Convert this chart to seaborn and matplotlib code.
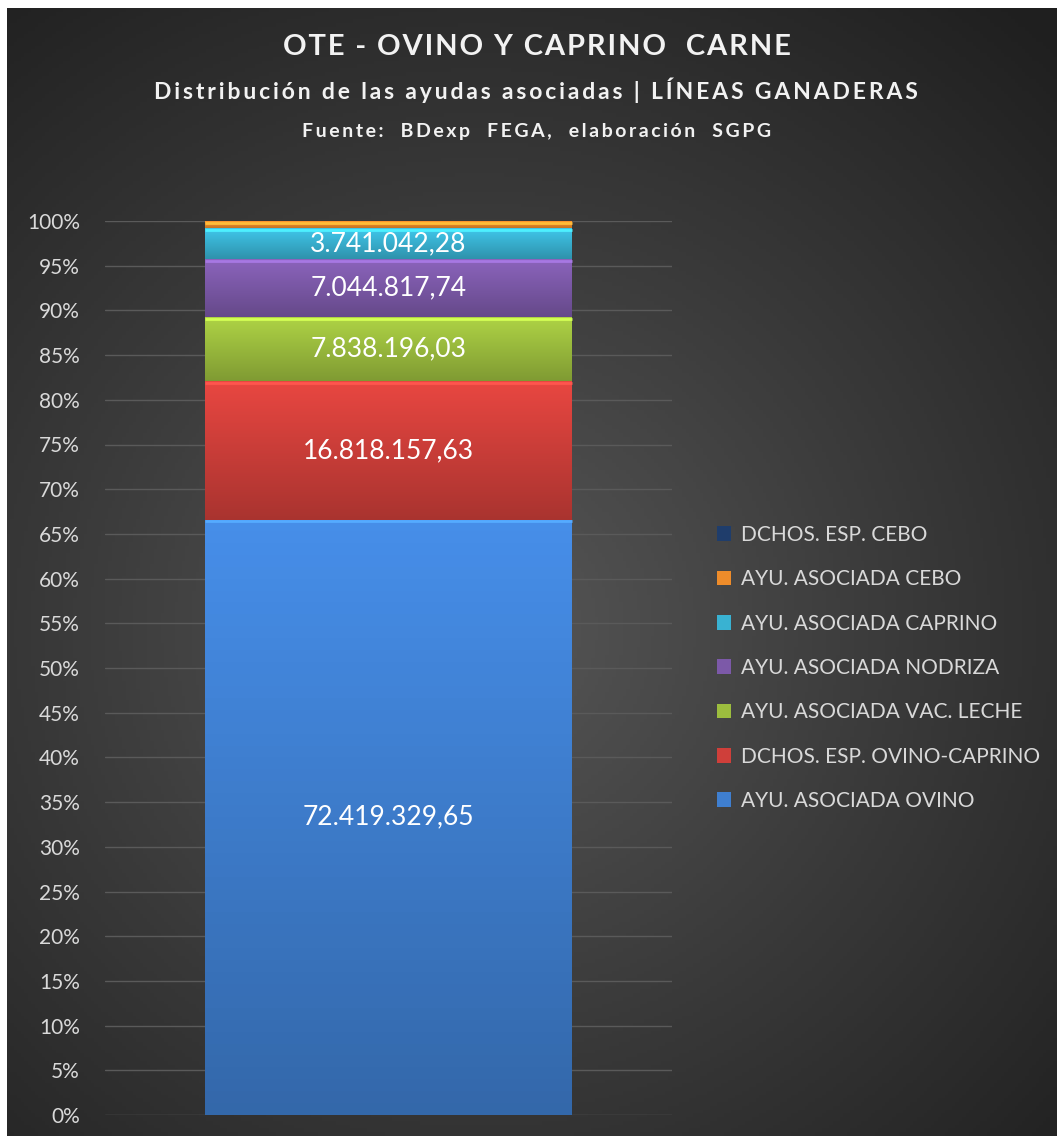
import numpy as np
import pandas as pd
import matplotlib.pyplot as plt
import matplotlib.colors as mcolors
import seaborn as sns

# Data (euros) per aid line, in stacking order (bottom to top)
series = ['AYU. ASOCIADA OVINO', 'DCHOS. ESP. OVINO-CAPRINO', 'AYU. ASOCIADA VAC. LECHE',
          'AYU. ASOCIADA NODRIZA', 'AYU. ASOCIADA CAPRINO', 'AYU. ASOCIADA CEBO',
          'DCHOS. ESP. CEBO']
values = [72419329.65, 16818157.63, 7838196.03, 7044817.74, 3741042.28, 870000.00, 0.0]
labels = ['72.419.329,65', '16.818.157,63', '7.838.196,03', '7.044.817,74', '3.741.042,28', '', '']
colors = ['#3f7fd0', '#cf3f3a', '#9cbd3e', '#7c59a8', '#39b2d2', '#ee8c2a', '#1f3d6b']
category = ['OTE']

df = pd.DataFrame({'serie': series, 'valor': values})
df['pct'] = df['valor'] / df['valor'].sum()
df['cum'] = df['pct'].cumsum()
df['base'] = df['cum'] - df['pct']

sns.set_theme(style='dark')
plt.rcParams['font.family'] = ['Lato', 'DejaVu Sans']


def spaced(s, sep='\u2009'):
    # emulate letter spacing of the original titles
    return sep.join(s)


fig = plt.figure(figsize=(10.57, 11.36), dpi=100)
fig.patch.set_facecolor('white')

# dark radial-gradient background
bg = fig.add_axes([7 / 1057, 0, 1 - 7 / 1057, 1 - 8 / 1136])
yy, xx = np.mgrid[0:1:300j, 0:1:300j]
r = np.sqrt((xx - 0.45) ** 2 + ((yy - 0.55) * 1.1) ** 2)
bg_cmap = mcolors.LinearSegmentedColormap.from_list('bg', ['#575757', '#3a3a3a', '#1f1f1f'])
bg.imshow(r, cmap=bg_cmap, aspect='auto', extent=[0, 1, 0, 1], vmin=0, vmax=0.8)
bg.set_axis_off()

ax = fig.add_axes([105 / 1057, 21 / 1136, 567 / 1057, 894 / 1136])
ax.patch.set_alpha(0)

# stacked bar: draw cumulative bars from top down so each overlaps the next
bar_w = 0.647
for i in range(len(series) - 1, -1, -1):
    d = pd.DataFrame({'cat': category, 'y': [df['cum'][i]]})
    sns.barplot(data=d, x='cat', y='y', color=colors[i], width=bar_w,
                saturation=1, ax=ax, zorder=3, linewidth=0, edgecolor='none')

# shading on each segment
for i in range(len(series)):
    b, h = df['base'][i], df['pct'][i]
    if h <= 0:
        continue
    c = np.array(mcolors.to_rgb(colors[i]))
    grad = np.linspace(0, 1, 50)[:, None]
    img = np.clip(c * (0.82 + 0.3 * grad[..., None]), 0, 1)
    img = np.repeat(img, 2, axis=1)
    ax.imshow(img, extent=[-bar_w / 2, bar_w / 2, b, b + h], aspect='auto',
              origin='lower', zorder=4)
    ax.plot([-bar_w / 2, bar_w / 2], [b + h - 0.002, b + h - 0.002],
            color=np.clip(c * 1.35, 0, 1), lw=2, zorder=5, solid_capstyle='butt')
    if labels[i]:
        ax.text(0, b + h / 2, labels[i], ha='center', va='center',
                color='white', fontsize=19, zorder=6)

ax.set_xlim(-0.5, 0.5)
ax.set_ylim(0, 1)
ax.set_yticks(np.arange(0, 1.01, 0.05))
ax.set_yticklabels([f'{int(round(t * 100))}%' for t in np.arange(0, 1.01, 0.05)])
ax.tick_params(axis='y', colors='#d9d9d9', labelsize=15, length=0, pad=18)
ax.set_xticks([])
ax.set_xlabel('')
ax.set_ylabel('')
ax.grid(axis='y', color='#5a5a5a', lw=1, zorder=0)
ax.grid(axis='x', visible=False)
for s in ax.spines.values():
    s.set_visible(False)

# legend (reverse order)
handles = [plt.Rectangle((0, 0), 1, 1, facecolor=colors[i], edgecolor='none')
           for i in range(len(series) - 1, -1, -1)]
leg = fig.legend(handles, series[::-1], loc='upper left',
                 bbox_to_anchor=(698 / 1057, 1 - 506 / 1136), frameon=False,
                 fontsize=15, labelcolor='#d9d9d9', handlelength=0.7,
                 handleheight=0.7, handletextpad=0.45, labelspacing=1.17)

fig.text(0.508, 1 - 47 / 1136, spaced('OTE - OVINO Y CAPRINO  CARNE', '\u200a'),
         ha='center', va='center', color='#f2f2f2', fontsize=21, fontweight='bold')
fig.text(0.507, 1 - 90 / 1136, spaced('Distribución de las ayudas asociadas | LÍNEAS GANADERAS'),
         ha='center', va='center', color='#f2f2f2', fontsize=16.5, fontweight='bold')
fig.text(0.508, 1 - 131 / 1136, spaced('Fuente:  BDexp  FEGA,  elaboración  SGPG'),
         ha='center', va='center', color='#f2f2f2', fontsize=14, fontweight='bold')

fig.savefig('out.png', dpi=100)
